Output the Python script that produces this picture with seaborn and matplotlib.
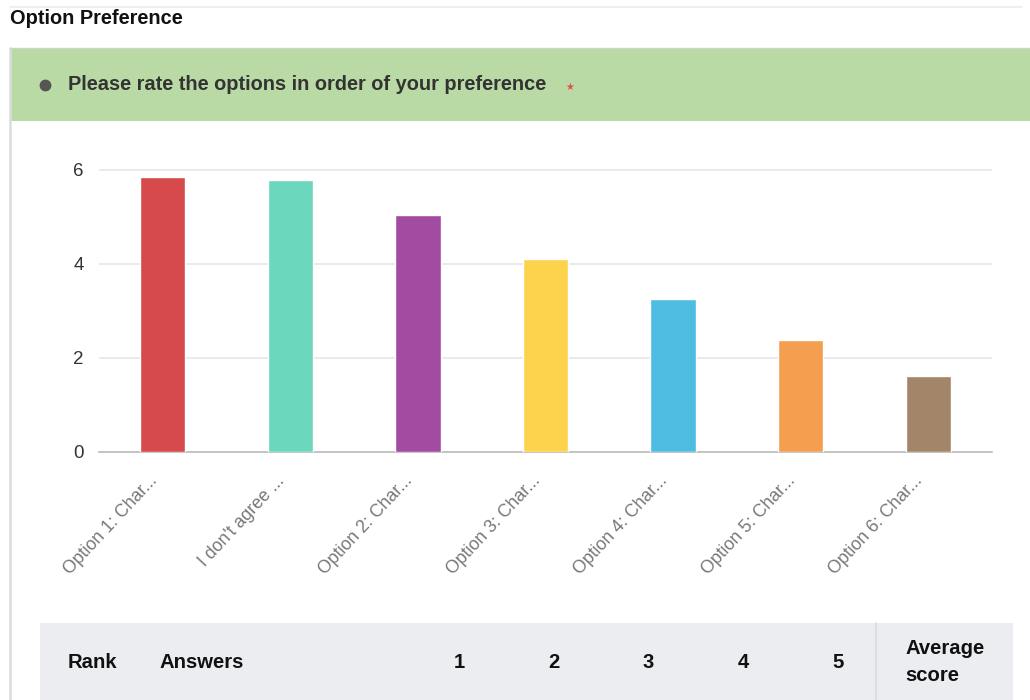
import matplotlib
matplotlib.use("Agg")
import matplotlib.pyplot as plt
import matplotlib.transforms as mtransforms
import seaborn as sns
import pandas as pd
from matplotlib.patches import Rectangle, Circle
from matplotlib.lines import Line2D

# ---- data ----
categories = ["Option 1: Char...", "I don't agree ...", "Option 2: Char...",
              "Option 3: Char...", "Option 4: Char...", "Option 5: Char...",
              "Option 6: Char..."]
scores = [5.85, 5.79, 5.05, 4.10, 3.25, 2.38, 1.62]
bar_colors = ["#d64a4b", "#6bd8bd", "#a34ba0", "#fdd34d", "#4fbde2", "#f49f50", "#a3856a"]
yticks = [0, 2, 4, 6]
title_text = "Option Preference"
question_text = "Please rate the options in order of your preference"
table_headers = ["Rank", "Answers", "1", "2", "3", "4", "5"]
table_header_x = [68, 160, 459, 554, 648, 743, 838]
avg_header = "Average\nscore"

df = pd.DataFrame({"option": categories, "score": scores})

sns.set_theme(style="white")
plt.rcParams["font.family"] = ["Liberation Sans", "DejaVu Sans"]

W, H = 1030, 700
fig = plt.figure(figsize=(W / 100, H / 100), dpi=100)
fig.patch.set_facecolor("white")


def fx(x):
    return x / W


def fy(y):
    return 1 - y / H


# top thin line
fig.add_artist(Line2D([fx(10), fx(1022)], [fy(7), fy(7)], color="#ececec", lw=1.2))
# title
fig.text(fx(10), fy(19), title_text, fontsize=14.4, fontweight="bold", color="#111111",
         va="center", ha="left")
# panel left border
fig.add_artist(Line2D([fx(10), fx(10)], [fy(48), fy(700)], color="#dcdcdc", lw=1.8))
# green box
fig.add_artist(Rectangle((fx(10), fy(121)), fx(1030 - 10), (121 - 48) / H,
                         facecolor="#b9daa5", edgecolor="none"))
fig.add_artist(Line2D([fx(10), fx(1030)], [fy(48), fy(48)], color="#c9d6c2", lw=1.0))
# bullet + question
fig.add_artist(Line2D([fx(45)], [fy(85)], marker="o", markersize=7.5, color="#555555", lw=0))
fig.text(fx(68), fy(85), question_text, fontsize=14.4, fontweight="bold", color="#333333",
         va="center", ha="left")
fig.text(fx(570), fy(87), "\u2605", fontsize=7, color="#e0523e", va="center", ha="center",
         family=["DejaVu Sans"])

# ---- chart ----
ax_left, ax_right = 99, 992
ax_bottom, ax_top = 452, 160.6
ax = fig.add_axes([fx(ax_left), fy(ax_bottom), (ax_right - ax_left) / W, (ax_bottom - ax_top) / H])
sns.barplot(data=df, x="option", y="score", hue="option", palette=bar_colors,
            legend=False, width=0.355, saturation=1, ax=ax, zorder=3)
ax.set_ylim(0, 6.2)
ax.set_xlim(-0.5, len(categories) - 0.5)
ax.set_yticks(yticks)
ax.set_yticklabels([str(v) for v in yticks], fontsize=13.5, color="#333333")
ax.yaxis.grid(True, color="#e8e8e8", lw=1.3, zorder=0)
ax.set_axisbelow(True)
for s in ["top", "right", "left"]:
    ax.spines[s].set_visible(False)
ax.spines["bottom"].set_color("#bbbbbb")
ax.spines["bottom"].set_linewidth(1.2)
ax.tick_params(axis="y", length=0, pad=11)
ax.tick_params(axis="x", length=5, width=1, color="#999999", direction="out", pad=16)
ax.set_xticks(range(len(categories)))
ax.set_xticklabels(categories, rotation=47, ha="right", va="baseline", rotation_mode="anchor",
                   fontsize=12.8, color="#777777")
shift = mtransforms.ScaledTranslation(-5 / 100, 0, fig.dpi_scale_trans)
for lbl in ax.get_xticklabels():
    lbl.set_transform(lbl.get_transform() + shift)
ax.set_xlabel("")
ax.set_ylabel("")
ax.set_facecolor("white")

# ---- table header ----
fig.add_artist(Rectangle((fx(40), fy(700)), fx(1013 - 40), (700 - 623) / H,
                         facecolor="#ecedf1", edgecolor="none"))
fig.add_artist(Line2D([fx(876), fx(876)], [fy(623), fy(700)], color="#d9dade", lw=1.2))
for lab, x in zip(table_headers, table_header_x):
    ha = "left" if lab in ("Rank", "Answers") else "center"
    fig.text(fx(x), fy(662), lab, fontsize=14.6, fontweight="bold", color="#111111",
             va="center", ha=ha)
fig.text(fx(905), fy(662), avg_header, fontsize=14.6, fontweight="bold", color="#111111",
         va="center", ha="left", linespacing=1.55)

fig.savefig("out.png", dpi=100, facecolor="white")
